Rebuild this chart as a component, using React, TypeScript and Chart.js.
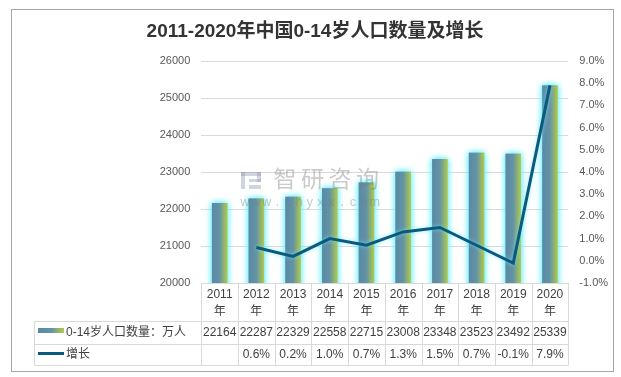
import React, { useEffect, useRef } from "react";
import { Chart, registerables } from "chart.js";

Chart.register(...registerables);

const TITLE = "2011-2020年中国0-14岁人口数量及增长";
const years = ["2011", "2012", "2013", "2014", "2015", "2016", "2017", "2018", "2019", "2020"];
const yearSuffix = "年";
const population = [22164, 22287, 22329, 22558, 22715, 23008, 23348, 23523, 23492, 25339];
const growth: (number | null)[] = [null, 0.6, 0.2, 1.0, 0.7, 1.3, 1.5, 0.7, -0.1, 7.9];
const popLabel = "0-14岁人口数量：万人";
const growthLabel = "增长";
const leftTicks = { min: 20000, max: 26000, step: 1000 };
const rightTicks = { min: -1, max: 9, step: 1 };
const watermark = "智研咨询";
const watermarkUrl = "www.chyxx.com";

const FONT = "'Liberation Sans', 'Noto Sans CJK SC', sans-serif";
const LINE_COLOR = "#0a5a7d";
const GRID = "#d9d9d9";

function barGradient(ctx: CanvasRenderingContext2D, x0: number, x1: number) {
  const g = ctx.createLinearGradient(x0, 0, x1, 0);
  g.addColorStop(0, "#5a8aa3");
  g.addColorStop(0.5, "#6393a6");
  g.addColorStop(1, "#b2ca48");
  return g;
}

const decor = {
  id: "decor",
  beforeDatasetDraw(chart: any, args: any) {
    const ctx = chart.ctx;
    ctx.save();
    if (args.index === 0) {
      ctx.shadowColor = "rgba(110,240,255,1)";
      ctx.shadowBlur = 6;
    } else {
      ctx.shadowColor = "rgba(120,230,255,0.7)";
      ctx.shadowBlur = 4;
    }
  },
  afterDatasetDraw(chart: any, args: any) {
    const ctx = chart.ctx;
    if (args.index === 0) {
      // second pass strengthens the halo, clipped to the plot area
      const a = chart.chartArea;
      ctx.save();
      ctx.beginPath();
      ctx.rect(a.left, a.top - 10, a.right - a.left, a.bottom - a.top + 10);
      ctx.clip();
      args.meta.controller.draw();
      ctx.restore();
    }
    ctx.restore();
  },
  beforeDraw(chart: any) {
    const ctx = chart.ctx;
    ctx.save();
    ctx.fillStyle = "#ffffff";
    ctx.fillRect(0, 0, chart.width, chart.height);
    ctx.restore();
  },
  afterDraw(chart: any) {
    const ctx: CanvasRenderingContext2D = chart.ctx;
    const xs = chart.scales.x;
    const area = chart.chartArea;
    const n = years.length;
    const cat = (area.right - area.left) / n;
    ctx.save();

    // outer border
    ctx.strokeStyle = "#a6a6a6";
    ctx.lineWidth = 1;
    ctx.strokeRect(11.5, 9.5, 602, 362);

    // title
    ctx.fillStyle = "#333333";
    ctx.font = `bold 19px ${FONT}`;
    ctx.textAlign = "center";
    ctx.textBaseline = "middle";
    ctx.fillText(TITLE, 315, 32);

    // watermark
    ctx.globalAlpha = 0.4;
    ctx.fillStyle = "#8a94b0";
    ctx.fillRect(241, 172, 20, 4);
    ctx.fillRect(241, 172, 4, 17);
    ctx.fillRect(257, 172, 4, 10);
    ctx.fillRect(249, 179, 12, 3);
    ctx.fillRect(249, 185, 12, 4);
    ctx.fillStyle = "#7a7a7a";
    ctx.font = `23px ${FONT}`;
    ctx.textAlign = "center";
    ctx.textBaseline = "middle";
    for (let i = 0; i < watermark.length; i++) {
      ctx.fillText(watermark[i], 285 + i * 27.5, 181);
    }
    ctx.font = `13px ${FONT}`;
    for (let i = 0; i < watermarkUrl.length; i++) {
      ctx.fillText(watermarkUrl[i], 245 + i * 10.8, 202);
    }
    ctx.globalAlpha = 1;

    // table
    const top = area.bottom;
    const r1 = 321.5;
    const r2 = 344.5;
    const r3 = 365.5;
    const tLeft = 34.5;
    ctx.strokeStyle = GRID;
    ctx.lineWidth = 1;
    ctx.beginPath();
    for (let i = 0; i <= n; i++) {
      const x = Math.round(area.left + i * cat) + 0.5;
      ctx.moveTo(x, top);
      ctx.lineTo(x, r3);
    }
    ctx.moveTo(tLeft, r1);
    ctx.lineTo(tLeft, r3);
    [r1, r2, r3].forEach((y) => {
      ctx.moveTo(tLeft, y);
      ctx.lineTo(area.right, y);
    });
    ctx.stroke();

    ctx.fillStyle = "#404040";
    ctx.font = `12px ${FONT}`;
    ctx.textAlign = "center";
    ctx.textBaseline = "middle";
    for (let i = 0; i < n; i++) {
      const cx = xs.getPixelForValue(i);
      ctx.fillText(years[i], cx, 295);
      ctx.fillText(yearSuffix, cx, 312);
      ctx.fillText(String(population[i]), cx, 333);
      const g = growth[i];
      ctx.fillText(g === null ? "" : g.toFixed(1) + "%", cx, 355);
    }

    // legend cells
    ctx.fillStyle = barGradient(ctx, 38, 64);
    ctx.fillRect(38, 328, 26, 5);
    ctx.strokeStyle = LINE_COLOR;
    ctx.lineWidth = 3;
    ctx.beginPath();
    ctx.moveTo(38, 353.5);
    ctx.lineTo(64, 353.5);
    ctx.stroke();
    ctx.fillStyle = "#404040";
    ctx.textAlign = "left";
    ctx.font = `12px ${FONT}`;
    ctx.fillText(popLabel, 66, 333);
    ctx.fillText(growthLabel, 66, 355);

    ctx.restore();
  },
};

export default function App() {
  const ref = useRef<HTMLCanvasElement | null>(null);
  useEffect(() => {
    const canvas = ref.current;
    if (!canvas) return;
    const chart = new Chart(canvas, {
      type: "bar",
      data: {
        labels: years,
        datasets: [
          {
            type: "bar",
            label: popLabel,
            data: population,
            yAxisID: "y",
            order: 1,
            categoryPercentage: 1,
            barPercentage: 0.42,
            backgroundColor: (c: any) => {
              const chartR = c.chart;
              const xs = chartR.scales && chartR.scales.x;
              if (!xs || c.type !== "data") return "#6393a6";
              const cx = xs.getPixelForValue(c.dataIndex);
              const w = ((xs.right - xs.left) / years.length) * 0.42;
              if (!isFinite(cx) || !isFinite(w) || w <= 0) return "#6393a6";
              return barGradient(chartR.ctx, cx - w / 2, cx + w / 2);
            },
            borderWidth: 0,
          } as any,
          {
            type: "line",
            label: growthLabel,
            data: growth,
            yAxisID: "y1",
            order: 0,
            borderColor: LINE_COLOR,
            borderWidth: 3,
            pointRadius: 0,
            fill: false,
            tension: 0,
            spanGaps: false,
          } as any,
        ],
      },
      options: {
        animation: false,
        responsive: false,
        maintainAspectRatio: false,
        layout: { padding: { left: 0, right: 0, top: 61, bottom: 94 } },
        plugins: {
          legend: { display: false },
          title: { display: false },
          tooltip: { enabled: false },
        },
        scales: {
          x: {
            display: false,
            offset: true,
          },
          y: {
            position: "left",
            min: leftTicks.min,
            max: leftTicks.max,
            ticks: {
              stepSize: leftTicks.step,
              padding: 11,
              color: "#595959",
              font: { family: FONT, size: 11 },
              callback: (v: any) => String(v),
            },
            grid: { color: GRID, drawTicks: false },
            border: { display: false },
            afterFit: (s: any) => {
              s.width = 201.3;
            },
          },
          y1: {
            position: "right",
            min: rightTicks.min,
            max: rightTicks.max,
            ticks: {
              stepSize: rightTicks.step,
              padding: 11,
              color: "#595959",
              font: { family: FONT, size: 11 },
              callback: (v: any) => Number(v).toFixed(1) + "%",
            },
            grid: { display: false, drawTicks: false },
            border: { display: false },
            afterFit: (s: any) => {
              s.width = 621 - 568.3;
            },
          },
        },
      } as any,
      plugins: [decor],
    });
    return () => chart.destroy();
  }, []);
  return (
    <div style={{ position: "absolute", left: 0, top: 0, width: 621, height: 377, background: "#fff" }}>
      <canvas ref={ref} width={621} height={377} style={{ display: "block", width: 621, height: 377 }} />
    </div>
  );
}
